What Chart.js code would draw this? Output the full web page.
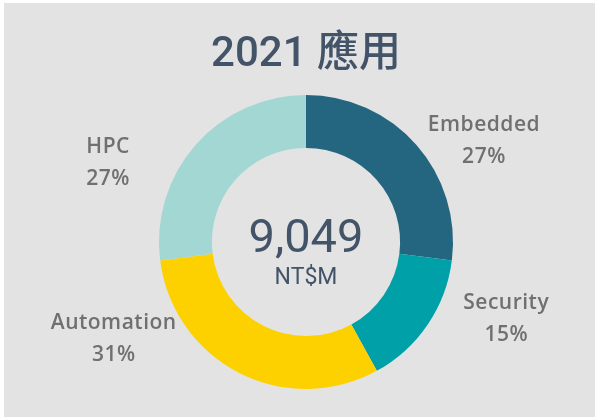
<!DOCTYPE html>
<html>
<head>
<meta charset="utf-8">
<script src="https://cdn.jsdelivr.net/npm/chart.js@4"></script>
<style>
  html, body { margin: 0; padding: 0; background: #ffffff; }
  #wrap { position: absolute; left: 4px; top: 3px; width: 591px; height: 414px; background: #e3e3e3; }
  canvas { display: block; }
</style>
</head>
<body>
<div id="wrap"><canvas id="c" width="591" height="414"></canvas></div>
<script>
const titleText = '2021 應用';
const categories = ['Embedded', 'Security', 'Automation', 'HPC'];
const shares = [27, 15, 31, 27];
const totalValue = '9,049';
const totalUnit = 'NT$M';
const colors = ['#24667f', '#00a0a8', '#fdd100', '#a2d7d4'];

// polar placement of outside labels (degrees clockwise from top, distance as multiple of outer radius)
const labelPlacement = [
  { angle: 60.2, dist: 1.395 },
  { angle: 110.7, dist: 1.456 },
  { angle: 243.4, dist: 1.463 },
  { angle: 292.0, dist: 1.452 }
];

const labelPlugin = {
  id: 'donutLabels',
  afterDatasetsDraw(chart) {
    const ctx = chart.ctx;
    const meta = chart.getDatasetMeta(0);
    const arc0 = meta.data[0];
    const cx = arc0.x, cy = arc0.y, R = arc0.outerRadius;
    ctx.save();
    // center text
    ctx.textAlign = 'center';
    ctx.textBaseline = 'alphabetic';
    ctx.fillStyle = '#435469';
    ctx.font = '400 47px Roboto';
    ctx.fillText(totalValue, cx, cy + 10);
    ctx.font = '400 23px Roboto';
    ctx.fillText(totalUnit, cx, cy + 42);
    // outside labels
    ctx.fillStyle = '#707070';
    ctx.font = '600 21px "Open Sans"';
    if ('letterSpacing' in ctx) ctx.letterSpacing = '0.5px';
    categories.forEach((name, i) => {
      const p = labelPlacement[i];
      const a = p.angle * Math.PI / 180;
      const lx = cx + Math.sin(a) * R * p.dist;
      const ly = cy - Math.cos(a) * R * p.dist;
      ctx.fillText(name, lx, ly - 9);
      ctx.fillText(shares[i] + '%', lx, ly + 23);
    });
    ctx.restore();
  }
};

new Chart(document.getElementById('c'), {
  type: 'doughnut',
  data: {
    labels: categories,
    datasets: [{
      data: shares,
      backgroundColor: colors,
      borderWidth: 0,
      hoverOffset: 0
    }]
  },
  options: {
    responsive: false,
    animation: false,
    cutout: '64%',
    layout: { padding: { left: 155, right: 142, top: 0, bottom: 28 } },
    plugins: {
      legend: { display: false },
      tooltip: { enabled: false },
      title: {
        display: true,
        text: titleText,
        color: '#435469',
        font: { family: 'Roboto, "Noto Sans CJK TC"', size: 42, weight: '500', lineHeight: 1.2 },
        padding: { top: 27, bottom: 14.6 }
      }
    }
  },
  plugins: [labelPlugin]
});
</script>
</body>
</html>
